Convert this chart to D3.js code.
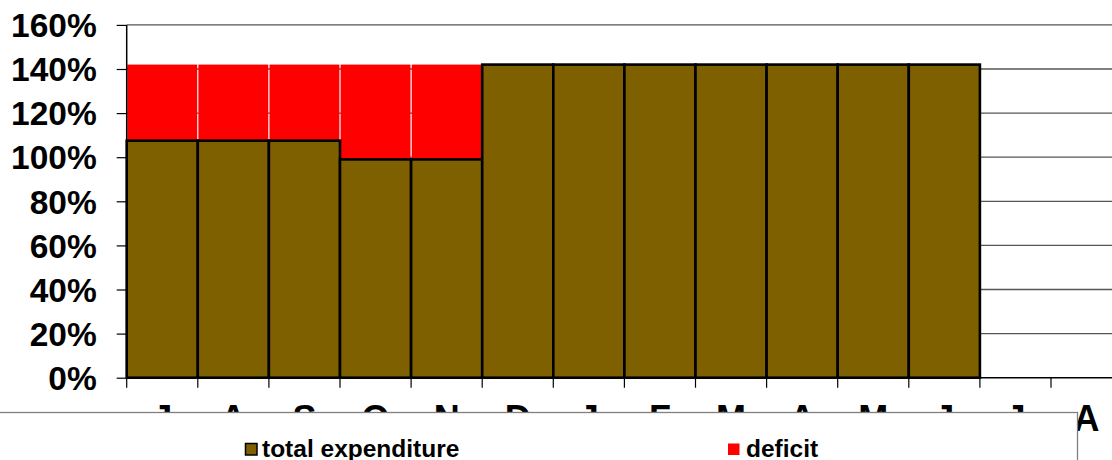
<!DOCTYPE html>
<html>
<head>
<meta charset="utf-8">
<script src="https://cdn.jsdelivr.net/npm/d3@7"></script>
<style>
  html, body { margin: 0; padding: 0; background: #fff; }
  svg { display: block; }
  text { font-family: "Liberation Sans", Arial, sans-serif; font-weight: bold; fill: #000; }
</style>
</head>
<body>
<svg id="chart" width="1112" height="460"></svg>
<script>
const categories = ["J","A","S","O","N","D","J","F","M","A","M","J","J","A"];
const totalExpenditure = [107.5,107.5,107.5,99,99,142,142,142,142,142,142,142,null,null];
const deficit = [34.5,34.5,34.5,43,43,0,0,0,0,0,0,0,null,null];
const yTicks = [0,20,40,60,80,100,120,140,160];
const seriesNames = ["total expenditure","deficit"];
const seriesColors = ["#7F6000","#FF0000"];

const W = 1112, H = 460;
const svg = d3.select("#chart");

const x = d3.scaleBand()
  .domain(d3.range(categories.length))
  .range([126.7, 126.7 + 71.1 * categories.length])
  .paddingInner(0).paddingOuter(0);
const y = d3.scaleLinear().domain([0,160]).range([377.7, 24.9]);

// gridlines
svg.append("g").selectAll("line").data(yTicks.filter(d => d > 0)).join("line")
  .attr("x1", x.range()[0]).attr("x2", W)
  .attr("y1", d => y(d)).attr("y2", d => y(d))
  .attr("stroke", "#555").attr("stroke-width", 1.3);

// deficit bars (stacked on top)
svg.append("g").selectAll("rect").data(categories.map((c,i)=>i).filter(i => deficit[i] > 0)).join("rect")
  .attr("x", i => x(i) + 0.6)
  .attr("width", x.bandwidth() - 1.2)
  .attr("y", i => y(totalExpenditure[i] + deficit[i]))
  .attr("height", i => y(totalExpenditure[i]) - y(totalExpenditure[i] + deficit[i]))
  .attr("fill", seriesColors[1]);

// total expenditure bars
svg.append("g").selectAll("rect").data(categories.map((c,i)=>i).filter(i => totalExpenditure[i] != null)).join("rect")
  .attr("x", i => x(i))
  .attr("width", x.bandwidth())
  .attr("y", i => y(totalExpenditure[i]))
  .attr("height", i => y(0) - y(totalExpenditure[i]))
  .attr("fill", seriesColors[0])
  .attr("stroke", "#000").attr("stroke-width", 2.6);

// y axis
const yAxis = d3.axisLeft(y).tickValues(yTicks).tickSize(10).tickFormat(d => d + "%");
const gy = svg.append("g").attr("transform", `translate(${x.range()[0]},0)`).call(yAxis);
gy.select(".domain").attr("stroke", "#000").attr("stroke-width", 1.5).attr("d", `M0,${y(160)}V${y(0)}`);
gy.selectAll(".tick line").attr("stroke", "#000").attr("stroke-width", 1.2);
gy.selectAll(".tick text")
  .attr("x", -30).attr("dy", "0.35em")
  .style("font-size", "33.5px").style("font-family", '"Liberation Sans", Arial, sans-serif').style("font-weight", "bold").attr("fill", "#000");

// x axis
const gx = svg.append("g").attr("transform", `translate(0,${y(0)})`);
gx.append("line").attr("x1", x.range()[0]).attr("x2", W).attr("y1", 0).attr("y2", 0)
  .attr("stroke", "#000").attr("stroke-width", 1.5);
gx.selectAll("line.tk").data(d3.range(categories.length)).join("line").attr("class","tk")
  .attr("x1", i => x(i)).attr("x2", i => x(i)).attr("y1", 0).attr("y2", 10)
  .attr("stroke", "#000").attr("stroke-width", 1.2);
gx.selectAll("text").data(categories).join("text")
  .attr("x", (d,i) => x(i) + x.bandwidth()/2)
  .attr("y", 53.5)
  .attr("text-anchor", "middle")
  .style("font-size", "36px")
  .text(d => d);

// legend box (covers part of x labels)
const lg = svg.append("g");
lg.append("rect").attr("x", -2).attr("y", 412.5).attr("width", 1079.5).attr("height", 60)
  .attr("fill", "#fff").attr("stroke", "#808080").attr("stroke-width", 1.3);
const legendItems = [
  {name: seriesNames[0], color: seriesColors[0], sx: 245.5, tx: 262, stroke: "#000"},
  {name: seriesNames[1], color: seriesColors[1], sx: 728, tx: 746, stroke: "none"}
];
legendItems.forEach(it => {
  lg.append("rect").attr("x", it.sx).attr("y", 443.5).attr("width", 11.5).attr("height", 11.5)
    .attr("fill", it.color).attr("stroke", it.stroke).attr("stroke-width", 1.5);
  lg.append("text").attr("x", it.tx).attr("y", 457).style("font-size", "24.5px").text(it.name);
});
</script>
</body>
</html>
